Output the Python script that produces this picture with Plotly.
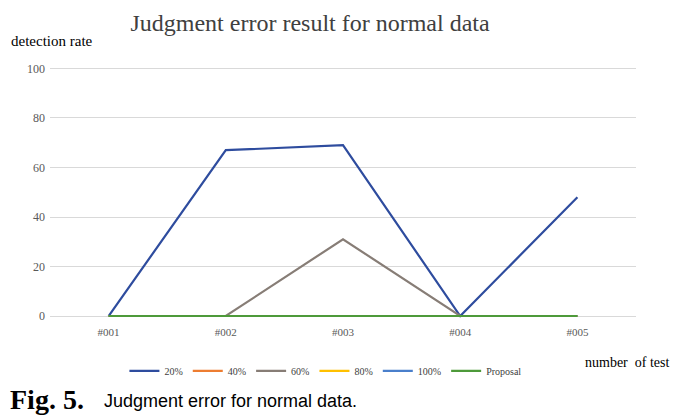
import plotly.graph_objects as go

categories = ["#001", "#002", "#003", "#004", "#005"]
series_names = ["20%", "40%", "60%", "80%", "100%", "Proposal"]
s20 = [0, 67, 69, 0, 48]
s40 = [0, 0, 0, 0, 0]
s60 = [0, 0, 31, 0, 0]
s80 = [0, 0, 0, 0, 0]
s100 = [0, 0, 0, 0, 0]
proposal = [0, 0, 0, 0, 0]
y_ticks = [0, 20, 40, 60, 80, 100]

series_values = [s20, s40, s60, s80, s100, proposal]
colors = ["#2E4C9E", "#ED7D31", "#877D76", "#FFC000", "#4A7FCB", "#4E9A3A"]

SERIF = "Liberation Serif, Times New Roman, serif"

fig = go.Figure()
for name, vals, col in zip(series_names, series_values, colors):
    fig.add_trace(go.Scatter(x=categories, y=vals, mode="lines", name=name,
                             line=dict(color=col, width=2.2)))

fig.update_layout(
    width=689, height=417,
    margin=dict(l=50, r=53, t=66, b=99),
    paper_bgcolor="white", plot_bgcolor="white",
    font=dict(family=SERIF, color="#595959", size=12),
    showlegend=True,
    legend=dict(orientation="h", x=0.47, xanchor="center", y=-0.21, yanchor="middle",
                font=dict(family=SERIF, size=10, color="#404040"),
                itemwidth=30, tracegroupgap=0, traceorder="normal"),
    title=dict(text="Judgment error result for normal data", x=0.45, xanchor="center",
               y=0.947, yanchor="middle",
               font=dict(family=SERIF, size=24, color="#404040")),
    annotations=[
        dict(text="detection rate", xref="paper", yref="paper", x=-0.07, y=1.1,
             xanchor="left", yanchor="middle", showarrow=False,
             font=dict(family=SERIF, size=15, color="#000000")),
        dict(text="number  of test", xref="paper", yref="paper", x=1.06, y=-0.175,
             xanchor="right", yanchor="middle", showarrow=False,
             font=dict(family=SERIF, size=14, color="#000000")),
        dict(text="<b>Fig. 5.</b>", xref="paper", yref="paper", x=-0.072, y=-0.325,
             xanchor="left", yanchor="middle", showarrow=False,
             font=dict(family=SERIF, size=28, color="#000000")),
        dict(text="Judgment error for normal data.", xref="paper", yref="paper", x=0.088, y=-0.33,
             xanchor="left", yanchor="middle", showarrow=False,
             font=dict(family="Liberation Sans, Arial, sans-serif", size=18, color="#000000")),
    ],
)
fig.update_xaxes(type="category", range=[-0.5, 4.5], showgrid=False, showline=False,
                 zeroline=False, ticks="", ticklabelstandoff=6,
                 tickfont=dict(size=11, color="#595959"))
fig.update_yaxes(range=[-0.8, 101], tickvals=y_ticks, showgrid=True, gridcolor="#D9D9D9",
                 gridwidth=1, zeroline=False, showline=False, ticks="", ticklabelstandoff=4,
                 tickfont=dict(size=12, color="#595959"))

fig.write_html("out.html", config={"displayModeBar": False},
               post_script="document.body.style.margin='0';")
